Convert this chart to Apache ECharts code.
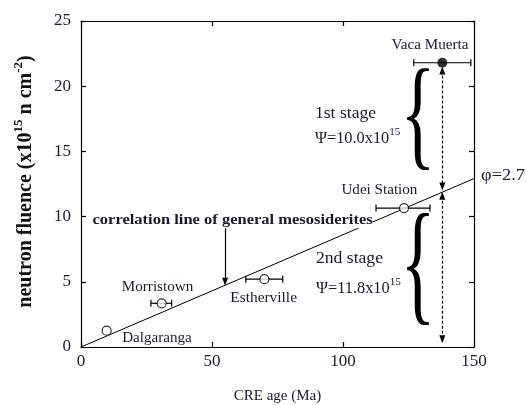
<!DOCTYPE html>
<html><head><meta charset="utf-8">
<script src="https://cdn.jsdelivr.net/npm/echarts@6/dist/echarts.min.js"></script>
<style>html,body{margin:0;padding:0;background:#fff}#c{width:526px;height:405px}</style>
</head><body><div id="c"></div>
<script>
// ---- data ----
var meteoriteNames = ['Dalgaranga', 'Morristown', 'Estherville', 'Udei Station'];
var creAge = [9.8, 30.8, 70.0, 123.3];
var fluence = [1.25, 3.35, 5.2, 10.65];
var ageLow = [null, 26.7, 62.9, 112.6];
var ageHigh = [null, 34.6, 77.0, 133.2];
var vacaName = 'Vaca Muerta';
var vacaAge = [137.9];
var vacaFluence = [21.8];
var vacaAgeLow = [127.0];
var vacaAgeHigh = [148.8];
var corrLineX = [0, 151];
var corrLineY = [0, 13.0];
var xTicks = [0, 50, 100, 150];
var yTicks = [0, 5, 10, 15, 20, 25];
var stage1Top = 21.2, stage1Bottom = 12.3, stage2Top = 11.6, stage2Bottom = 0.6;

var FONT = '"Liberation Serif", "Times New Roman", serif';
var TXT = '#1a1a2a';

var chart = echarts.init(document.getElementById('c'), null, {renderer: 'canvas'});

var pts = creAge.map(function (x, i) { return [x, fluence[i]]; });
var errs = [];
creAge.forEach(function (x, i) { if (ageLow[i] != null) errs.push([x, fluence[i], ageLow[i], ageHigh[i]]); });
errs.push([vacaAge[0], vacaFluence[0], vacaAgeLow[0], vacaAgeHigh[0]]);

var AL = {show: true, onZero: false, lineStyle: {color: '#000', width: 1.2}};
var AT = {show: true, inside: true, length: 5, lineStyle: {color: '#000', width: 1.2}};

var option = {
  animation: false,
  backgroundColor: '#fff',
  grid: {left: 81, right: 52, top: 21, bottom: 58, containLabel: false, outerBoundsMode: 'none'},
  xAxis: [
    {type: 'value', min: 0, max: 150, interval: 50, position: 'bottom',
     axisLine: AL, axisTick: AT, splitLine: {show: false},
     axisLabel: {fontFamily: FONT, fontSize: 17, color: TXT, margin: 6},
     name: 'CRE age (Ma)', nameLocation: 'middle', nameGap: 42,
     nameTextStyle: {fontFamily: FONT, fontSize: 15, color: TXT}},
    {type: 'value', min: 0, max: 150, interval: 50, position: 'top',
     axisLine: AL, axisTick: AT, splitLine: {show: false}, axisLabel: {show: false}}
  ],
  yAxis: [
    {type: 'value', min: 0, max: 25, interval: 5, position: 'left',
     axisLine: AL, axisTick: AT, splitLine: {show: false},
     axisLabel: {fontFamily: FONT, fontSize: 17, color: TXT, margin: 10},
     name: '{b|neutron fluence (x10}{s|15}{b| n cm}{s|-2}{b|)}', nameLocation: 'middle', nameGap: 45,
     nameRotate: 90,
     nameTextStyle: {padding: [0, 0, 0, 5], rich: {
       b: {fontFamily: FONT, fontSize: 20, fontWeight: 'bold', color: '#111', lineHeight: 24, verticalAlign: 'bottom'},
       s: {fontFamily: FONT, fontSize: 13, fontWeight: 'bold', color: '#111', lineHeight: 24, verticalAlign: 'top'}
     }}},
    {type: 'value', min: 0, max: 25, interval: 5, position: 'right',
     axisLine: AL, axisTick: AT, splitLine: {show: false}, axisLabel: {show: false}}
  ],
  series: [
    {type: 'line', name: 'correlation', data: corrLineX.map(function (x, i) { return [x, corrLineY[i]]; }),
     showSymbol: false, symbol: 'none', clip: false, z: 2,
     lineStyle: {color: '#000', width: 1},
     markLine: {
       silent: true, symbol: ['triangle', 'triangle'], symbolSize: [6, 8], label: {show: false},
       lineStyle: {color: '#000', type: [3, 2], width: 1.2},
       data: [
         [{coord: [vacaAge[0], stage1Top]}, {coord: [vacaAge[0], stage1Bottom]}],
         [{coord: [vacaAge[0], stage2Top]}, {coord: [vacaAge[0], stage2Bottom]}]
       ]
     }},
    {type: 'line', name: 'pointer', data: [], z: 2,
     markLine: {
       silent: true, symbol: ['none', 'triangle'], symbolSize: [6, 8], label: {show: false},
       lineStyle: {color: '#000', type: 'solid', width: 1.2},
       data: [[{coord: [55, 9.2]}, {coord: [55, 5.0]}]]
     }},
    {type: 'custom', name: 'errors', z: 3,
     renderItem: function (params, api) {
       var y = api.value(1);
       var p1 = api.coord([api.value(2), y]);
       var p2 = api.coord([api.value(3), y]);
       var st = {stroke: '#000', lineWidth: 1.2};
       return {type: 'group', children: [
         {type: 'line', shape: {x1: p1[0], y1: p1[1], x2: p2[0], y2: p2[1]}, style: st},
         {type: 'line', shape: {x1: p1[0], y1: p1[1] - 3.5, x2: p1[0], y2: p1[1] + 3.5}, style: st},
         {type: 'line', shape: {x1: p2[0], y1: p2[1] - 3.5, x2: p2[0], y2: p2[1] + 3.5}, style: st}
       ]};
     },
     data: errs},
    {type: 'scatter', name: 'mesosiderites', data: pts, symbol: 'circle', symbolSize: 9, z: 5,
     itemStyle: {color: '#fff', borderColor: '#000', borderWidth: 1.2}},
    {type: 'scatter', name: vacaName, data: [[vacaAge[0], vacaFluence[0]]], symbol: 'circle', symbolSize: 10, z: 5,
     itemStyle: {color: '#000'}}
  ]
};
chart.setOption(option);

function px(x, y) { return chart.convertToPixel({xAxisIndex: 0, yAxisIndex: 0}, [x, y]); }
var supRich = {
  a: {fontFamily: FONT, fontSize: 16, fill: TXT, color: TXT, lineHeight: 20, verticalAlign: 'bottom'},
  s: {fontFamily: FONT, fontSize: 11, fill: TXT, color: TXT, lineHeight: 20, verticalAlign: 'top'}
};
function label(text, x, y, size, sx, align, extra) {
  var p = px(x, y);
  var st = {text: text, fontFamily: FONT, fontSize: size, fill: TXT, align: align || 'center', verticalAlign: 'middle',
            textAlign: align || 'center', textVerticalAlign: 'middle'};
  if (extra) for (var k in extra) st[k] = extra[k];
  return {type: 'text', x: p[0], y: p[1], scaleX: sx, scaleY: 1, z: 50, style: st};
}
function brace(x, y, sy) {
  var p = px(x, y);
  return {type: 'text', x: p[0], y: p[1], scaleX: 1.3, scaleY: sy, z: 40,
          style: {text: '{', fontFamily: FONT, fontSize: 56, fill: '#000', align: 'center', verticalAlign: 'middle',
                  textAlign: 'center', textVerticalAlign: 'middle'}};
}
var g = [];
g.push(label(vacaName, 133.2, 23.1, 14, 1.08));
g.push(label(meteoriteNames[3], 113.9, 12.0, 14, 1.08));
g.push(label(meteoriteNames[2], 69.7, 3.7, 14, 1.1));
g.push(label(meteoriteNames[1], 29.2, 4.6, 14, 1.08));
g.push(label(meteoriteNames[0], 29.0, 0.7, 14, 1.08));
g.push(label('1st stage', 89.3, 17.85, 16, 1.1, 'left'));
g.push(label('{a|\u03A8=10.0x10}{s|15}', 89.3, 16.1, 16, 1.02, 'left', {rich: supRich}));
g.push(label('2nd stage', 89.7, 6.75, 16, 1.1, 'left'));
g.push(label('{a|\u03A8=11.8x10}{s|15}', 89.7, 4.6, 16, 1.02, 'left', {rich: supRich}));
g.push(label('correlation line of general mesosiderites', 4.4, 9.75, 15, 1.1, 'left',
  {fontWeight: 'bold', backgroundColor: '#fff', padding: [1, 0, 1, 0]}));
g.push(label('\u03C6=2.7', 152.7, 13.15, 17, 1.08, 'left'));
g.push(brace(128.6, 17.3, 2.2));
g.push(brace(128.6, 5.8, 2.43));
chart.setOption({graphic: {elements: g}});
</script>
</body></html>
